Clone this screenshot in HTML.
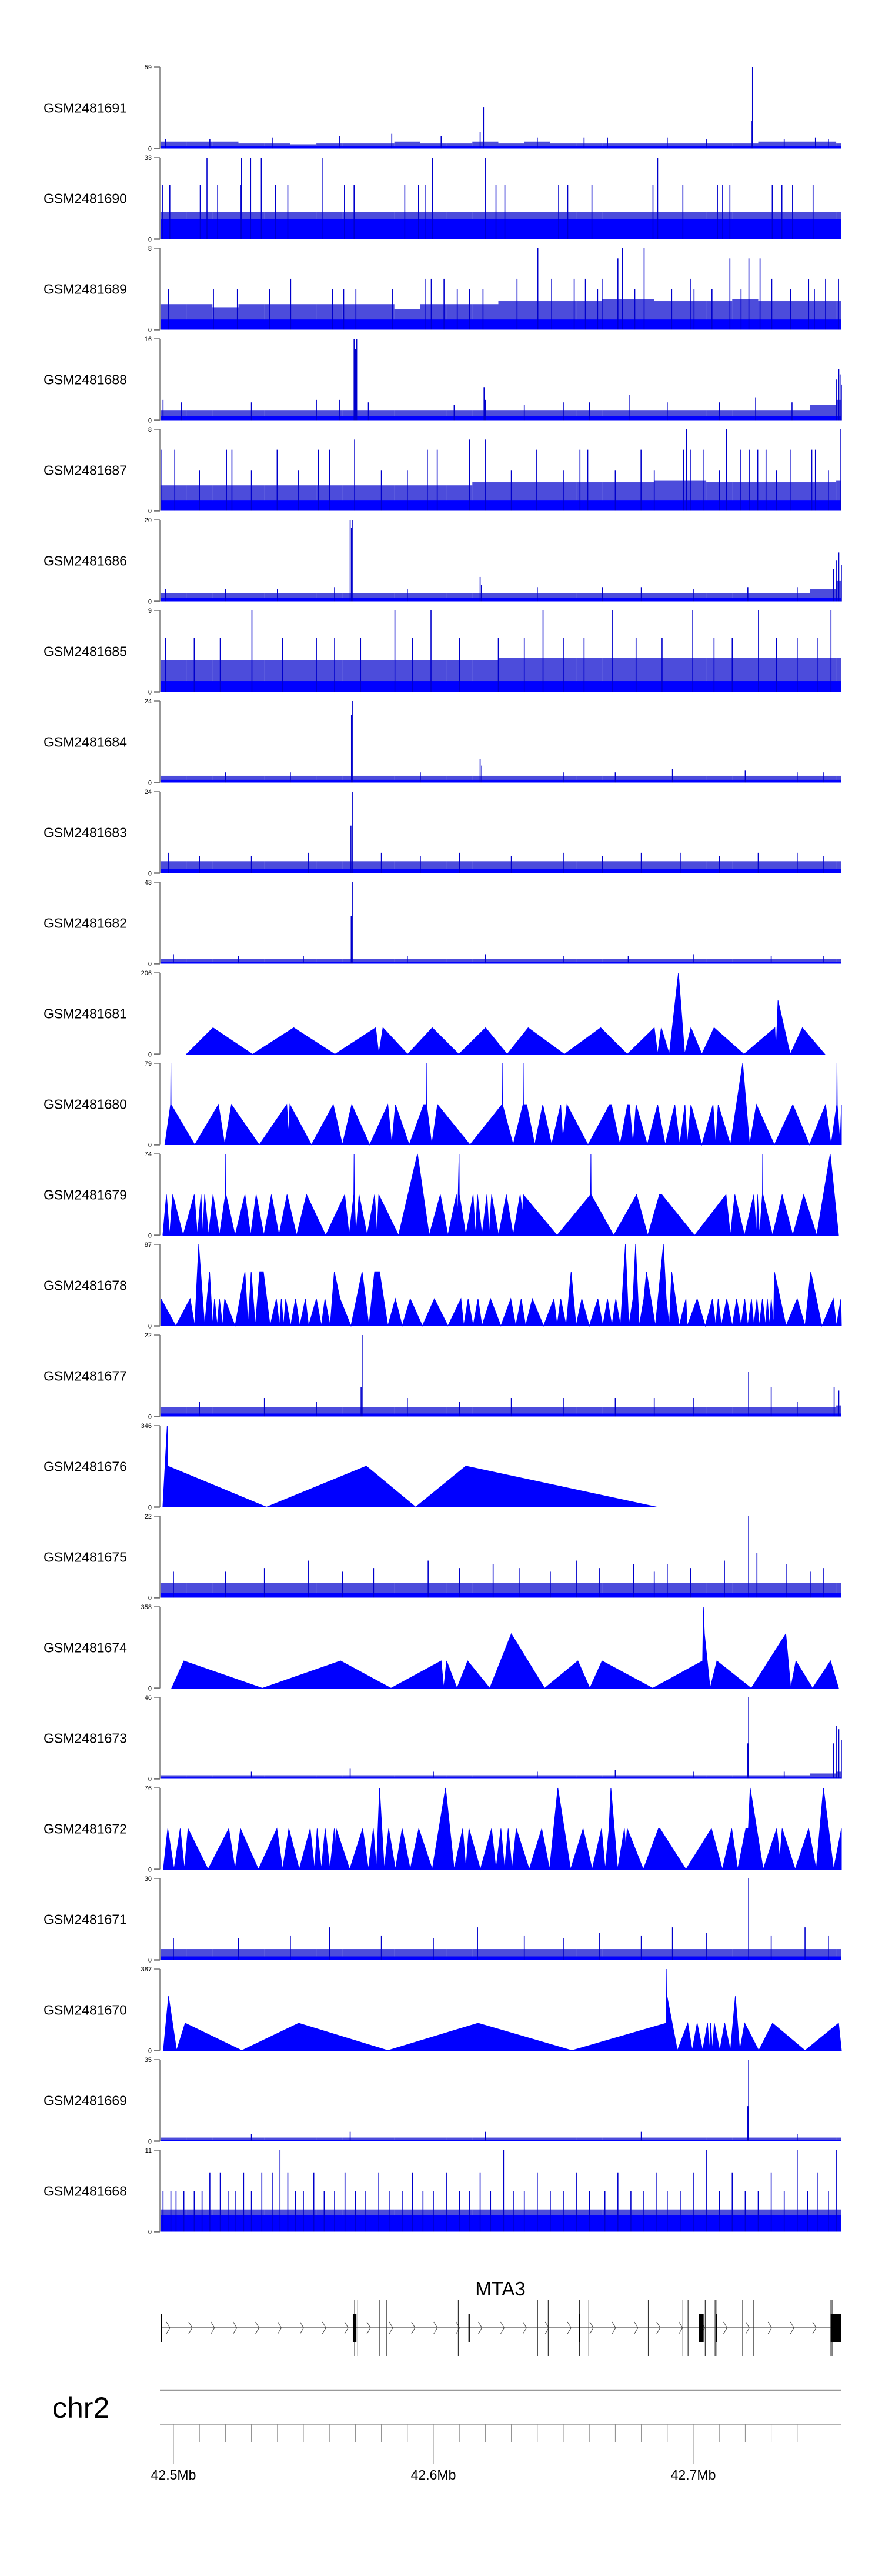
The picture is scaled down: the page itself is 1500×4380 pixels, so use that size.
<!DOCTYPE html>
<html><head><meta charset="utf-8">
<style>
html,body{margin:0;padding:0;background:#fff;}
svg{display:block;}
text{font-family:"Liberation Sans",sans-serif;}
</style></head>
<body>
<svg id="chart" width="1500" height="4380" viewBox="0 0 1500 4380" xmlns="http://www.w3.org/2000/svg">
<rect x="0" y="0" width="1500" height="4380" fill="#fff"/>
<g id="tracks"></g>
<g id="gene"></g>
<g id="axis"></g>
</svg>
<script>
// ---------- data ----------
const trackNames = ["GSM2481691","GSM2481690","GSM2481689","GSM2481688","GSM2481687","GSM2481686","GSM2481685","GSM2481684","GSM2481683","GSM2481682","GSM2481681","GSM2481680","GSM2481679","GSM2481678","GSM2481677","GSM2481676","GSM2481675","GSM2481674","GSM2481673","GSM2481672","GSM2481671","GSM2481670","GSM2481669","GSM2481668"];
const trackMax = [59,33,8,16,8,20,9,24,24,43,206,79,74,87,22,346,22,358,46,76,30,387,35,11];
const trackKind = ["n","n","n","n","n","n","n","n","n","n","t","t","t","t","n","t","n","t","n","t","n","t","n","n"];
const axisTicksKb = [0,10,20,30,40,50,60,70,80,90,100,110,120,130,140,150,160,170,180,190,200,210,220,230,240];
const axisMajorLabels = [[0,"42.5Mb"],[100,"42.6Mb"],[200,"42.7Mb"]];

const floor_1691 = 1.5;
const bins_1691 = [5,5,5,4,4,3,4,4,4,5,4,4,5,4,5,4,4,4,4,4,4,4,4,5,5,5,4];
const peaks_1691 = [[-3,7],[14,7],[38,8],[64,9],[84,11],[103,9],[118,12],[119.3,30],[140,8],[158,8],[167,8],[190,8],[205,7],[222.4,20],[222.8,59],[235,7],[247,8],[252,7]];

const floor_1690 = 8;
const bins_1690 = [11,11,11,11,11,11,11,11,11,11,11,11,11,11,11,11,11,11,11,11,11,11,11,11,11,11,11];
const peaks_1690 = [[-4.1,22],[-1.4,22],[10.3,22],[17,22],[26,22],[39.2,22],[44,22],[65.8,22],[69.5,22],[89,22],[94.3,22],[97.1,22],[124.1,22],[127.5,22],[148.2,22],[151.7,22],[161,22],[184.5,22],[196,22],[209.3,22],[211.3,22],[214.1,22],[230.4,22],[234.1,22],[238.2,22],[246.1,22],[12.9,33],[26.2,33],[29.7,33],[33.8,33],[57.5,33],[99.7,33],[120.1,33],[186.3,33]];

const floor_1689 = 1;
const bins_1689 = [2.5,2.5,2.2,2.5,2.5,2.5,2.5,2.5,2.5,2,2.5,2.5,2.5,2.8,2.8,2.8,2.8,3,3,2.8,2.8,2.8,3,2.8,2.8,2.8,2.8];
const peaks_1689 = [[140.2,8],[172.7,8],[181.1,8],[171,7],[214.1,7],[221.4,7],[225.7,7],[45.1,5],[97.1,5],[99.2,5],[104.1,5],[132.2,5],[145.5,5],[154.2,5],[158.5,5],[164.9,5],[199.1,5],[230.2,5],[244.4,5],[250.9,5],[255.9,5],[-1.9,4],[15.4,4],[24.6,4],[37,4],[61.2,4],[65.5,4],[70.2,4],[84.2,4],[109.2,4],[113.9,4],[119.1,4],[163.2,4],[177.5,4],[191.7,4],[200.3,4],[207.2,4],[218.4,4],[237.5,4],[246.6,4]];

const floor_1688 = 0.8;
const bins_1688 = [2,2,2,2,2,2,2,2,2,2,2,2,2,2,2,2,2,2,2,2,2,2,2,2,2,3,4];
const peaks_1688 = [[-4,4],[3,3.5],[30,3.5],[55,4],[64,4],[69.5,16],[70,14],[70.5,16],[75,3.5],[108,3],[119.5,6.5],[120,4],[135,3],[150,3.5],[160,3.5],[175.6,5],[190,3.5],[210,3.5],[224,4.5],[238,3.5],[255,8],[256,10],[256.5,9],[257,7]];

const floor_1687 = 1;
const bins_1687 = [2.5,2.5,2.5,2.5,2.5,2.5,2.5,2.5,2.5,2.5,2.5,2.5,2.8,2.8,2.8,2.8,2.8,2.8,2.8,3,3,2.8,2.8,2.8,2.8,2.8,3];
const peaks_1687 = [[197.4,8],[212.8,8],[256.8,8],[69.7,7],[113.9,7],[120.1,7],[-4.8,6],[0.5,6],[20.4,6],[22.5,6],[39.9,6],[55.7,6],[60,6],[97.7,6],[101.5,6],[139.8,6],[156.4,6],[159.4,6],[179.9,6],[196.2,6],[199.1,6],[203.8,6],[218.1,6],[221.7,6],[224.8,6],[228,6],[237.6,6],[245.6,6],[247,6],[10,4],[30,4],[48,4],[80,4],[90,4],[130,4],[150,4],[170,4],[185,4],[210,4],[232,4],[252,4]];

const floor_1686 = 0.8;
const bins_1686 = [2,2,2,2,2,2,2,2,2,2,2,2,2,2,2,2,2,2,2,2,2,2,2,2,2,3,5];
const peaks_1686 = [[-3,3],[20,3],[40,3],[62,3.5],[68,20],[68.5,18],[69,20],[90,3],[118,6],[118.5,4],[140,3.5],[165,3.5],[180,3.5],[200,3],[221,3.5],[240,3.5],[254,8],[255,10],[256,12],[257,9]];

const floor_1685 = 1.2;
const bins_1685 = [3.5,3.5,3.5,3.5,3.5,3.5,3.5,3.5,3.5,3.5,3.5,3.5,3.5,3.8,3.8,3.8,3.8,3.8,3.8,3.8,3.8,3.8,3.8,3.8,3.8,3.8,3.8];
const peaks_1685 = [[30.2,9],[85.2,9],[99.1,9],[142.2,9],[168.8,9],[199.8,9],[225.1,9],[253,9],[-3,6],[8,6],[18,6],[42,6],[55,6],[62,6],[72,6],[92,6],[110,6],[125,6],[135,6],[150,6],[158,6],[178,6],[188,6],[208,6],[215,6],[232,6],[240,6],[248,6]];

const floor_1684 = 0.8;
const bins_1684 = [2,2,2,2,2,2,2,2,2,2,2,2,2,2,2,2,2,2,2,2,2,2,2,2,2,2,2];
const peaks_1684 = [[68.5,20],[68.8,24],[118,7],[118.6,5],[192,4],[20,3],[45,3],[95,3],[150,3],[170,3],[220,3.5],[240,3],[250,3]];

const floor_1683 = 1.2;
const bins_1683 = [3.5,3.5,3.5,3.5,3.5,3.5,3.5,3.5,3.5,3.5,3.5,3.5,3.5,3.5,3.5,3.5,3.5,3.5,3.5,3.5,3.5,3.5,3.5,3.5,3.5,3.5,3.5];
const peaks_1683 = [[68.3,14],[68.8,24],[-2,6],[10,5],[30,5],[52,6],[80,6],[95,5],[110,6],[130,5],[150,6],[165,5],[180,6],[195,6],[210,5],[225,6],[240,6],[250,5]];

const floor_1682 = 0.8;
const bins_1682 = [2.5,2.5,2.5,2.5,2.5,2.5,2.5,2.5,2.5,2.5,2.5,2.5,2.5,2.5,2.5,2.5,2.5,2.5,2.5,2.5,2.5,2.5,2.5,2.5,2.5,2.5,2.5];
const peaks_1682 = [[68.4,25],[68.8,43],[0,5],[25,4],[50,4],[90,4],[120,5],[150,4],[175,4],[200,5],[230,4],[250,4]];

const floor_1677 = 0.8;
const bins_1677 = [2.5,2.5,2.5,2.5,2.5,2.5,2.5,2.5,2.5,2.5,2.5,2.5,2.5,2.5,2.5,2.5,2.5,2.5,2.5,2.5,2.5,2.5,2.5,2.5,2.5,2.5,3];
const peaks_1677 = [[72.2,8],[72.6,22],[221.3,12],[230,8],[254.2,8],[256,7],[10,4],[35,5],[55,4],[90,5],[110,4],[130,5],[150,5],[170,5],[185,5],[200,5],[240,4]];

const floor_1675 = 1.3;
const bins_1675 = [4,4,4,4,4,4,4,4,4,4,4,4,4,4,4,4,4,4,4,4,4,4,4,4,4,4,4];
const peaks_1675 = [[221.3,22],[224.5,12],[52,10],[77,8],[98,10],[123,9],[133,8],[155,10],[164,8],[177,9],[190,9],[199,8],[212,10],[236,9],[250,8],[0,7],[20,7],[35,8],[65,7],[110,8],[145,7],[185,7],[245,7]];

const floor_1673 = 0.8;
const bins_1673 = [2,2,2,2,2,2,2,2,2,2,2,2,2,2,2,2,2,2,2,2,2,2,2,2,2,3,4];
const peaks_1673 = [[221,20],[221.3,46],[254,20],[255,30],[256,28],[257,22],[68,6],[30,4],[100,4],[140,4],[170,5],[200,4],[235,4]];

const floor_1671 = 1.3;
const bins_1671 = [4,4,4,4,4,4,4,4,4,4,4,4,4,4,4,4,4,4,4,4,4,4,4,4,4,4,4];
const peaks_1671 = [[221.3,30],[60,12],[117,12],[164,10],[192,12],[205,10],[243,12],[0,8],[25,8],[45,9],[80,9],[100,8],[135,9],[150,8],[180,9],[230,9],[252,9]];

const floor_1669 = 0.5;
const bins_1669 = [1.5,1.5,1.5,1.5,1.5,1.5,1.5,1.5,1.5,1.5,1.5,1.5,1.5,1.5,1.5,1.5,1.5,1.5,1.5,1.5,1.5,1.5,1.5,1.5,1.5,1.5,1.5];
const peaks_1669 = [[221,15],[221.3,35],[68,4],[120,4],[180,4],[30,3],[240,3]];

const floor_1668 = 2.2;
const bins_1668 = [3,3,3,3,3,3,3,3,3,3,3,3,3,3,3,3,3,3,3,3,3,3,3,3,3,3,3];
const peaks_1668 = [[-4,5.5],[-1,5.5],[1,5.5],[4,5.5],[8,5.5],[11,5.5],[14,8],[18,8],[21,5.5],[24,5.5],[27,8],[30,5.5],[34,8],[38,8],[41,11],[44,8],[47,5.5],[50,5.5],[54,8],[58,5.5],[62,5.5],[66,8],[70,5.5],[74,5.5],[79,8],[83,5.5],[88,5.5],[92,8],[96,5.5],[100,5.5],[105,8],[110,5.5],[114,5.5],[118,8],[122,5.5],[127,11],[131,5.5],[135,5.5],[140,8],[145,5.5],[150,5.5],[155,8],[160,5.5],[166,5.5],[171,8],[176,5.5],[181,5.5],[186,8],[190,5.5],[195,5.5],[200,8],[205,11],[210,5.5],[215,8],[220,5.5],[225,5.5],[230,8],[235,5.5],[240,11],[244,5.5],[248,8],[252,5.5],[255,11]];

const pts_1681 = [[5.0,0],[15.2,67],[30.4,0],[46.3,67],[62.1,0],[77.8,67],[79.0,0],[80.6,67],[90.1,0],[99.6,67],[109.8,0],[120.1,67],[128.4,0],[136.5,67],[150.4,0],[164.4,67],[174.6,0],[185.0,67],[186.3,0],[187.7,67],[190.8,0],[194.3,206],[196.7,0],[199.1,67],[203.3,0],[208.0,67],[219.5,0],[231.4,67],[231.8,0],[232.6,136],[237.3,0],[242.0,67],[250.6,0]];
const pts_1680 = [[-3.3,0],[-1.1,39],[-1.0,79],[-0.9,39],[8.2,0],[17.3,39],[19.7,0],[22.3,39],[33.0,0],[43.6,39],[44.3,10],[44.8,39],[53.1,0],[61.5,39],[65.0,0],[68.6,39],[75.5,0],[82.5,39],[84.0,0],[85.4,39],[90.7,0],[96.3,39],[97.2,39],[97.3,79],[97.4,39],[99.4,0],[101.6,39],[114.1,0],[126.4,39],[126.5,79],[126.6,39],[130.7,0],[134.5,39],[134.6,79],[134.7,39],[135.9,39],[139.0,0],[142.1,39],[145.5,0],[149.0,39],[149.8,5],[151.4,39],[159.5,0],[167.8,39],[168.5,39],[171.8,0],[174.7,39],[175.4,39],[176.8,0],[178.0,39],[182.3,0],[186.3,39],[189.2,0],[192.9,39],[194.8,0],[196.8,39],[197.7,0],[199.1,39],[203.3,0],[207.6,39],[208.6,0],[209.6,39],[214.3,0],[219.0,79],[221.7,0],[224.3,39],[231.2,0],[238.3,39],[244.7,0],[250.9,39],[253.0,0],[255.2,39],[255.3,79],[255.4,39],[256.5,0],[257.8,39]];
const pts_1679 = [[-4.1,0],[-2.7,37],[-1.5,0],[-0.3,37],[3.7,0],[8.0,37],[9.2,0],[10.6,37],[11.3,0],[12.0,37],[13.5,0],[15.2,37],[17.7,0],[20.0,37],[20.1,74],[20.2,37],[23.7,0],[27.5,37],[29.7,0],[31.8,37],[34.8,0],[37.7,37],[40.6,0],[43.7,37],[47.4,0],[51.2,37],[58.6,0],[65.9,37],[67.6,0],[69.4,37],[69.5,74],[69.6,37],[70.2,0],[71.4,37],[74.5,0],[77.4,37],[78.3,0],[79.0,37],[86.6,0],[93.9,74],[98.4,0],[102.7,37],[105.6,0],[108.9,37],[109.4,20],[109.9,74],[110.0,37],[112.5,0],[115.3,37],[116.2,0],[117.0,37],[118.7,0],[120.6,37],[121.5,0],[122.4,37],[125.1,0],[128.1,37],[130.7,0],[133.4,37],[134.3,20],[134.6,37],[147.6,0],[160.5,37],[160.6,74],[160.7,37],[169.4,0],[178.2,37],[182.5,0],[187.0,37],[187.9,37],[200.5,0],[212.6,37],[214.3,0],[216.0,37],[219.7,0],[223.3,37],[224.3,0],[224.7,37],[225.5,0],[226.6,37],[226.7,74],[226.8,37],[230.5,0],[234.2,37],[238.3,0],[242.5,37],[247.5,0],[252.7,74],[255.9,0]];
const pts_1678 = [[-4.8,29],[0.9,0],[6.4,29],[8.2,0],[9.7,87],[12.0,0],[13.9,58],[15.1,0],[15.8,29],[16.8,0],[17.7,29],[18.9,0],[19.7,29],[23.7,0],[27.5,58],[28.7,0],[29.9,58],[31.5,0],[33.2,58],[34.6,58],[37.2,0],[39.6,29],[40.8,0],[41.5,29],[42.4,0],[43.2,29],[45.1,0],[47.0,29],[48.6,0],[50.8,29],[52.0,0],[55.0,29],[56.9,0],[58.3,29],[60.3,0],[61.9,58],[64.1,29],[68.3,0],[72.6,58],[75.2,0],[77.4,58],[79.3,58],[82.5,0],[85.4,29],[88.0,0],[91.1,29],[95.8,0],[100.4,29],[105.6,0],[110.6,29],[111.7,0],[113.4,29],[115.3,0],[117.2,29],[118.7,0],[122.0,29],[126.0,0],[129.8,29],[131.7,0],[133.8,29],[135.5,0],[138.1,29],[142.4,0],[146.4,29],[147.6,0],[149.0,29],[151.1,0],[153.0,58],[154.9,0],[157.1,29],[160.0,0],[163.3,29],[165.2,0],[167.0,29],[168.7,0],[170.2,29],[172.0,0],[173.9,87],[175.2,0],[176.8,29],[177.8,87],[179.2,0],[181.0,29],[182.0,58],[185.4,0],[188.5,87],[189.6,29],[190.8,0],[191.7,58],[194.6,0],[197.2,29],[197.7,0],[201.5,29],[204.6,0],[207.4,29],[208.6,0],[209.6,29],[210.8,0],[212.9,29],[215.0,0],[216.7,29],[218.4,0],[219.8,29],[221.0,0],[222.4,29],[223.3,0],[224.5,29],[225.4,0],[226.6,29],[227.8,0],[228.5,29],[229.3,0],[230.0,29],[230.9,0],[231.2,58],[235.7,0],[240.0,29],[243.0,0],[245.2,58],[249.5,0],[253.9,29],[255.1,0],[256.8,29],[258.2,0]];
const pts_1676 = [[-4.1,0],[-2.4,346],[-2.2,174],[35.8,0],[74.2,174],[93.2,0],[112.5,174],[186.0,0]];
const pts_1674 = [[-0.7,0],[4.0,120],[34.2,0],[64.3,120],[83.7,0],[103.0,120],[104.0,0],[105.1,120],[109.1,0],[113.2,120],[121.7,0],[130.0,239],[142.8,0],[155.6,120],[160.2,0],[164.9,120],[184.4,0],[203.6,120],[203.9,358],[204.3,239],[206.5,0],[209.1,120],[222.3,0],[235.6,239],[237.5,0],[239.5,120],[245.9,0],[252.8,120],[255.9,0]];
const pts_1672 = [[-3.9,0],[-2.2,38],[0.2,0],[2.6,38],[4.2,0],[5.6,38],[13.3,0],[21.3,38],[23.7,0],[25.8,38],[32.7,0],[39.8,38],[42.0,0],[44.4,38],[48.4,0],[52.6,38],[54.3,0],[55.3,38],[56.9,0],[58.4,38],[60.2,0],[61.9,38],[62.2,20],[62.6,38],[67.8,0],[72.8,38],[75.0,0],[76.9,38],[78.1,0],[79.3,76],[81.1,0],[82.8,38],[85.4,0],[88.0,38],[91.1,0],[94.4,38],[99.6,0],[104.7,76],[108.0,0],[111.3,38],[112.5,0],[113.7,38],[118.1,0],[122.4,38],[124.1,0],[126.0,38],[127.4,0],[128.8,38],[130.3,0],[131.9,38],[136.9,0],[141.7,38],[144.7,0],[147.9,76],[152.8,0],[157.6,38],[161.1,0],[164.7,38],[166.1,0],[167.6,38],[168.3,76],[170.9,0],[173.5,38],[174.0,20],[174.6,38],[180.8,0],[186.6,38],[187.2,38],[197.2,0],[207.0,38],[211.2,0],[214.8,38],[217.1,0],[220.2,38],[221.2,38],[221.9,76],[226.9,0],[232.1,38],[233.3,10],[234.2,38],[239.2,0],[244.4,38],[247.3,0],[250.1,76],[254.0,0],[257.5,38]];
const pts_1670 = [[-3.9,0],[-1.9,258],[1.2,0],[4.5,130],[26.3,0],[48.2,130],[82.5,0],[117.2,130],[153.3,0],[189.6,130],[189.8,387],[189.9,258],[193.9,0],[197.9,130],[199.6,0],[201.5,130],[203.6,0],[205.5,130],[206.2,0],[206.7,130],[207.4,0],[208.1,130],[210.2,0],[212.1,130],[214.3,0],[216.2,258],[217.9,0],[219.8,130],[225.2,0],[230.5,130],[243.0,0],[255.9,130],[257.5,0]];

const exonLinesKb = [69.7,70.9,79.2,82.1,109.6,140.1,144.2,156.2,159.8,182.7,196.0,198.0,204.6,208.4,209.1,219.0,223.1,252.7,253.4];
const exonBlocksKb = [[-4.8,-4.4],[69.0,70.4],[113.5,114.0],[156.0,156.4],[202.1,204.0],[208.7,209.2],[252.9,257.0]];
const geneStartKb = -4.8, geneEndKb = 257.0;

const noisy = {
 "GSM2481691":[floor_1691,bins_1691,peaks_1691],"GSM2481690":[floor_1690,bins_1690,peaks_1690],
 "GSM2481689":[floor_1689,bins_1689,peaks_1689],"GSM2481688":[floor_1688,bins_1688,peaks_1688],
 "GSM2481687":[floor_1687,bins_1687,peaks_1687],"GSM2481686":[floor_1686,bins_1686,peaks_1686],
 "GSM2481685":[floor_1685,bins_1685,peaks_1685],"GSM2481684":[floor_1684,bins_1684,peaks_1684],
 "GSM2481683":[floor_1683,bins_1683,peaks_1683],"GSM2481682":[floor_1682,bins_1682,peaks_1682],
 "GSM2481677":[floor_1677,bins_1677,peaks_1677],"GSM2481675":[floor_1675,bins_1675,peaks_1675],
 "GSM2481673":[floor_1673,bins_1673,peaks_1673],"GSM2481671":[floor_1671,bins_1671,peaks_1671],
 "GSM2481669":[floor_1669,bins_1669,peaks_1669],"GSM2481668":[floor_1668,bins_1668,peaks_1668]
};
const tri = {"GSM2481681":pts_1681,"GSM2481680":pts_1680,"GSM2481679":pts_1679,"GSM2481678":pts_1678,"GSM2481676":pts_1676,"GSM2481674":pts_1674,"GSM2481672":pts_1672,"GSM2481670":pts_1670};

const NS = "http://www.w3.org/2000/svg";
const X0 = 272, X1 = 1431, TOP0 = 114, STEP = 154, H = 138.5;
function xS(kb){ return Math.max(X0, Math.min(X1, 295 + kb*4.42)); }
function mk(tag, attrs, parent){ const e=document.createElementNS(NS,tag); for(const k in attrs) e.setAttribute(k,attrs[k]); parent.appendChild(e); return e; }

const gT = document.getElementById("tracks");
trackNames.forEach((name,i)=>{
  const top = TOP0 + STEP*i, bot = top + H, mx = trackMax[i];
  const yS = v => bot - Math.min(v,mx)/mx*H;
  const g = mk("g",{},gT);
  
  
  const lab = mk("text",{x:74,y:top+H/2+8,"font-size":23,fill:"#000"},g);
  lab.textContent = name;
  
  
  const ax = mk("g",{},g);
  
  
  mk("line",{x1:X0,y1:top,x2:X0,y2:bot,stroke:"#777","stroke-width":1.5},ax);
  mk("line",{x1:X0-10,y1:top,x2:X0,y2:top,stroke:"#777","stroke-width":1.5},ax);
  mk("line",{x1:X0-10,y1:bot,x2:X0,y2:bot,stroke:"#777","stroke-width":2.5},ax);
  const t1 = mk("text",{x:X0-14,y:top+4,"font-size":11,"text-anchor":"end",fill:"#000"},ax); t1.textContent = mx;
  
  
  const t0 = mk("text",{x:X0-14,y:bot+4,"font-size":11,"text-anchor":"end",fill:"#000"},ax); t0.textContent = "0";
  
  
  const dg = mk("g",{},g);
  
  
  if (trackKind[i]==="t"){
    const pts = tri[name];
    let d = "M"+xS(pts[0][0])+","+bot;
    pts.forEach(p=>{ d += " L"+xS(p[0]).toFixed(1)+","+yS(p[1]).toFixed(1); });
    d += " L"+xS(pts[pts.length-1][0]).toFixed(1)+","+bot+" Z";
    const p = mk("path",{d:d,fill:"#0000ff",stroke:"#0000ff","stroke-width":1,"stroke-linejoin":"miter"},dg);
    
    
  } else {
    const [fl,bins,peaks] = noisy[name];
    bins.forEach((b,k)=>{
      const a = xS(-5+10*k), c = xS(5+10*k);
      if (c<=a) return;
      const r = mk("rect",{x:a,y:yS(b),width:c-a,height:bot-yS(b),fill:"#0000cc","fill-opacity":0.7},dg);
      
      
    });
    const f = mk("rect",{x:X0+2,y:yS(fl),width:X1-X0-2,height:bot-yS(fl),fill:"#0000ff"},dg);
    
    
    peaks.forEach(p=>{
      const x = xS(p[0]);
      const l = mk("line",{x1:x,y1:bot,x2:x,y2:yS(p[1]),stroke:"#0000cc","stroke-width":1.6},dg);
      
      
    });
  }
});

const gG = document.getElementById("gene");
const GY = 3958;
const gl = mk("text",{x:851,y:3903,"font-size":33,"text-anchor":"middle",fill:"#000"},gG); gl.textContent="MTA3";


const bb = mk("line",{x1:xS(geneStartKb),y1:GY,x2:xS(geneEndKb),y2:GY,stroke:"#222","stroke-width":1},gG);


for (let x = 283; x < 1420; x += 37.9){
  const c = mk("polyline",{points:`${x},${GY-10} ${x+6},${GY} ${x},${GY+10}`,fill:"none",stroke:"#444","stroke-width":1},gG);
  
  
}
exonLinesKb.forEach(k=>{
  const l = mk("line",{x1:xS(k),y1:3911,x2:xS(k),y2:4006,stroke:"#333","stroke-width":1.2},gG);
  
  
});
exonBlocksKb.forEach(e=>{
  const a=xS(e[0]), b=xS(e[1]);
  const r = mk("rect",{x:a,y:3935,width:Math.max(2,b-a),height:47,fill:"#000"},gG);
  
  
});

const gA = document.getElementById("axis");
const chr = mk("text",{x:89,y:4111,"font-size":50,fill:"#000"},gA); chr.textContent="chr2";


const gl1 = mk("line",{x1:X0,y1:4064,x2:X1,y2:4064,stroke:"#999","stroke-width":2.5},gA);


const al = mk("line",{x1:X0,y1:4122,x2:X1,y2:4122,stroke:"#999","stroke-width":1.5},gA);


axisTicksKb.forEach(k=>{
  const major = (k%100===0);
  const t = mk("line",{x1:xS(k),y1:4122,x2:xS(k),y2:major?4190:4153,stroke:"#888","stroke-width":1},gA);
  
  
});
axisMajorLabels.forEach(m=>{
  const t = mk("text",{x:xS(m[0]),y:4216,"font-size":23,"text-anchor":"middle",fill:"#000"},gA);
  t.textContent = m[1];
  
  
});
</script>
</body></html>
